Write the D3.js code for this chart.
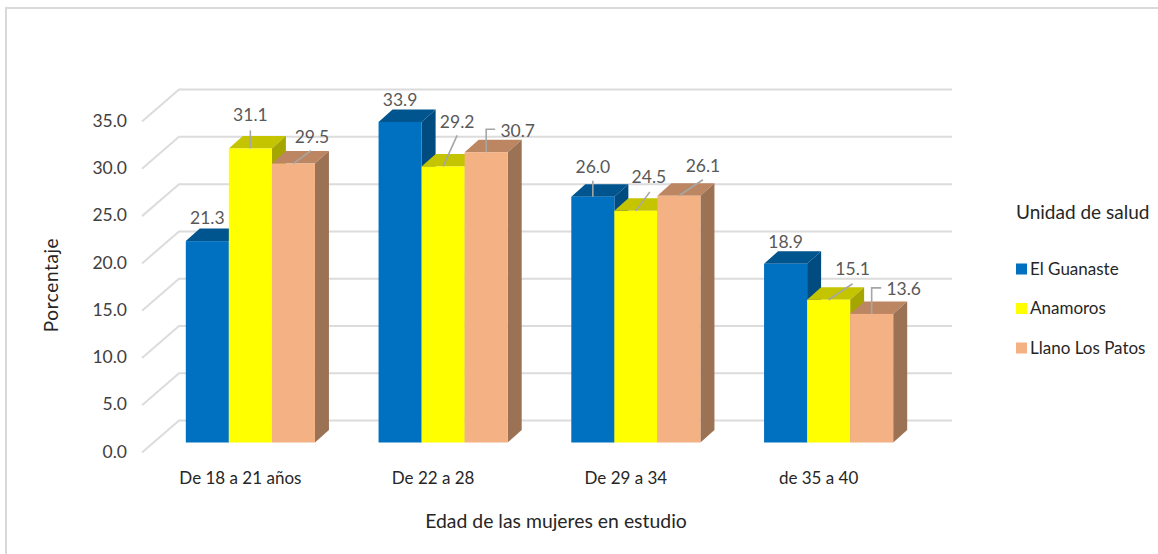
<!DOCTYPE html>
<html>
<head>
<meta charset="utf-8">
<script src="https://cdn.jsdelivr.net/npm/d3@7"></script>
<style>
html,body{margin:0;padding:0;background:#fff;overflow:hidden}
text{font-family:Lato,"Open Sans",sans-serif}
</style>
</head>
<body>
<svg id="c" width="1158" height="554"></svg>
<script>
const categories = ["De 18 a 21 años","De 22 a 28","De 29 a 34","de 35 a 40"];
const seriesNames = ["El Guanaste","Anamoros","Llano Los Patos"];
const elGuanaste = [21.3,33.9,26.0,18.9];
const anamoros = [31.1,29.2,24.5,15.1];
const llanoLosPatos = [29.5,30.7,26.1,13.6];
const yTicks = [0,5,10,15,20,25,30,35];

const seriesValues = [elGuanaste,anamoros,llanoLosPatos];
const palette = [
  {front:"#0070c0",top:"#00558f",side:"#004b80"},
  {front:"#ffff00",top:"#c4c400",side:"#a6a600"},
  {front:"#f4b183",top:"#bc8662",side:"#9c7254"}
];
// label offset and leader path relative to the bar's top-centre, per series then category
const labelOffset = [
  [[0,-23],[0,-22],[0,-30],[0,-22]],
  [[0,-34],[14,-45],[13,-34],[24,-31]],
  [[18.5,-27],[31.5,-21],[24,-30],[32,-25]]
];
const leaders = [
  [null,null,[[0,-16],[0,0]],null],
  [[[0,-18],[0,0]],[[14,-31],[0,0]],[[14,-19],[0,0]],[[24,-16],[0,0]]],
  [[[17.5,-13],[0,0]],[[9,-23],[0,-23],[0,0]],[[24,-16],[0,0]],[[9.5,-26],[0,-26],[0,0]]]
];

const W=1158,H=554;
const svg=d3.select("#c");
const depthX=14, depthY=-12.5;
const wallX=37, wallY=-32, axisDrop=10;
const gridRight=952, axisLeft=142;

const y=d3.scaleLinear().domain([0,35]).range([442.5,442.5-35*9.455]);
const x0=d3.scaleBand().domain(categories).range([154,925]).paddingInner(0.33).paddingOuter(0.165);
const x1=d3.scaleBand().domain(seriesNames).range([0,x0.bandwidth()]);

// page frame
svg.append("path").attr("d",`M6,${H}V8H${W}`).attr("fill","none").attr("stroke","#d9d9d9").attr("stroke-width",2);

// gridlines: side wall + back wall
svg.append("g").selectAll("path").data(yTicks).join("path")
  .attr("d",d=>{const yy=y(d)+axisDrop;
    return d3.line()([[axisLeft,yy],[axisLeft+wallX,yy+wallY],[gridRight,yy+wallY]]);})
  .attr("fill","none").attr("stroke","#dcdcdc").attr("stroke-width",2);

// y axis
const axisG=svg.append("g").attr("transform",`translate(${axisLeft-15},${axisDrop-1})`)
  .call(d3.axisLeft(y).tickValues(yTicks).tickSize(0).tickPadding(0).tickFormat(d3.format(".1f")));
axisG.select(".domain").remove();
axisG.selectAll("text").style("font-family","Lato,sans-serif").attr("font-size",17.5).attr("fill","#404040");

// bars, left to right so later ones overlap earlier sides
categories.forEach((cat,ci)=>{
  seriesNames.forEach((s,si)=>{
    const v=seriesValues[si][ci];
    const l=x0(cat)+x1(s), w=x1.bandwidth(), t=y(v), b=y(0), c=palette[si];
    const g=svg.append("g");
    g.append("path").attr("d",d3.line()([[l,t],[l+depthX,t+depthY],[l+w+depthX,t+depthY],[l+w,t]])).attr("fill",c.top);
    g.append("path").attr("d",d3.line()([[l+w,t],[l+w+depthX,t+depthY],[l+w+depthX,b+depthY],[l+w,b]])).attr("fill",c.side);
    g.append("rect").attr("x",l).attr("y",t).attr("width",w).attr("height",b-t).attr("fill",c.front);
  });
});

// leaders & value labels
categories.forEach((cat,ci)=>{
  seriesNames.forEach((s,si)=>{
    const v=seriesValues[si][ci];
    const cx=x0(cat)+x1(s)+x1.bandwidth()/2, ty=y(v);
    const lead=leaders[si][ci];
    if(lead) svg.append("path")
      .attr("d",d3.line()(lead.map(p=>[cx+p[0],ty+p[1]])))
      .attr("fill","none").attr("stroke","#a6a6a6").attr("stroke-width",1.6);
    const o=labelOffset[si][ci];
    svg.append("text").attr("x",cx+o[0]).attr("y",ty+o[1]).attr("dy","0.35em")
      .attr("text-anchor","middle").attr("font-size",17.5).attr("fill","#595959").text(v.toFixed(1));
  });
});

// category labels
svg.append("g").selectAll("text").data(categories).join("text")
  .attr("x",d=>x0(d)+x0.bandwidth()/2-10).attr("y",478).attr("dy","0.35em")
  .attr("text-anchor","middle").attr("font-size",17).attr("fill","#262626").text(d=>d);

// axis titles
svg.append("text").attr("x",556).attr("y",521).attr("dy","0.35em").attr("text-anchor","middle")
  .attr("font-size",19.4).attr("fill","#262626").text("Edad de las mujeres en estudio");
svg.append("text").attr("transform","translate(51,285) rotate(-90)").attr("dy","0.35em").attr("text-anchor","middle")
  .attr("font-size",19).attr("letter-spacing",0.6).attr("fill","#262626").text("Porcentaje");

// legend
svg.append("text").attr("x",1016).attr("y",212).attr("dy","0.35em")
  .attr("font-size",19).attr("fill","#262626").text("Unidad de salud");
const legendY=d3.scalePoint().domain(seriesNames).range([269,348]);
seriesNames.forEach((s,si)=>{
  svg.append("rect").attr("x",1016).attr("y",legendY(s)-5.5).attr("width",11).attr("height",11).attr("fill",palette[si].front);
  svg.append("text").attr("x",1030).attr("y",legendY(s)).attr("dy","0.35em")
    .attr("font-size",17).attr("fill","#262626").text(s);
});
</script>
</body>
</html>
